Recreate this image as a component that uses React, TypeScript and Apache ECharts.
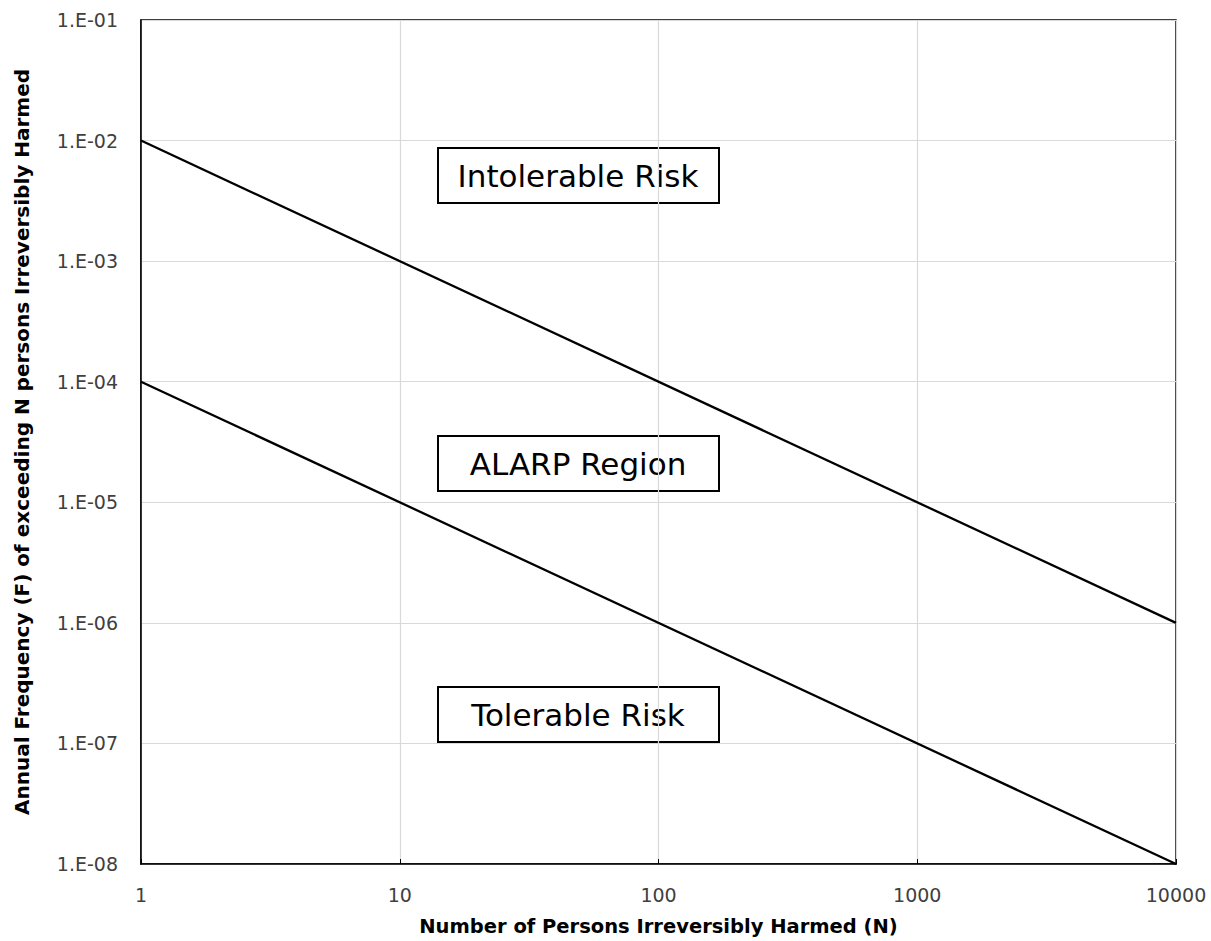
import React, { useEffect, useRef } from "react";
import * as echarts from "echarts";

// F-N criterion lines (N, F)
const upperLimit: [number, number][] = [
  [1, 1e-2],
  [10000, 1e-6],
];
const lowerLimit: [number, number][] = [
  [1, 1e-4],
  [10000, 1e-8],
];

const xRange = [1, 10000];
const yRange = [1e-8, 1e-1];

const regionLabels = ["Intolerable Risk", "ALARP Region", "Tolerable Risk"];

const xTitle = "Number of Persons Irreversibly Harmed (N)";
const yTitle = "Annual Frequency (F) of exceeding N persons Irreversibly Harmed";

const FONT = "'DejaVu Sans', sans-serif";

function sciLabel(v: number): string {
  const e = Math.round(Math.log10(v));
  const sign = e < 0 ? "-" : "+";
  const abs = Math.abs(e);
  return `1.E${sign}${abs < 10 ? "0" + abs : abs}`;
}

export default function App() {
  const ref = useRef<HTMLDivElement>(null);

  useEffect(() => {
    if (!ref.current) return;
    const chart = echarts.init(ref.current, undefined, { renderer: "svg" });

    const boxCenters = [
      { x: 578, y: 175 },
      { x: 578, y: 463 },
      { x: 578, y: 714 },
    ];

    const option: any = {
      animation: false,
      backgroundColor: "#ffffff",
      grid: {
        left: 141,
        right: 35,
        top: 20,
        bottom: 77,
        outerBoundsMode: "none",
        containLabel: false,
        show: true,
        borderColor: "#000000",
        borderWidth: 1.5,
      },
      xAxis: {
        type: "log",
        logBase: 10,
        min: xRange[0],
        max: xRange[1],
        name: xTitle,
        nameLocation: "middle",
        nameGap: 52,
        nameMoveOverlap: false,
        nameTextStyle: {
          fontFamily: FONT,
          fontWeight: "bold",
          fontSize: 19.5,
          color: "#000000",
        },
        axisLine: { show: true, lineStyle: { color: "#000000", width: 1.5 } },
        axisTick: { show: true, inside: true, length: 5, lineStyle: { color: "#000000" } },
        minorTick: { show: false },
        axisLabel: {
          fontFamily: FONT,
          fontSize: 19,
          color: "#404040",
          margin: 21,
          formatter: (v: number) => String(Math.round(v)),
        },
        splitLine: { show: true, lineStyle: { color: "#d9d9d9", width: 1.2 } },
      },
      yAxis: {
        type: "log",
        logBase: 10,
        min: yRange[0],
        max: yRange[1],
        name: yTitle,
        nameLocation: "middle",
        nameGap: 109,
        nameMoveOverlap: false,
        nameRotate: 90,
        nameTextStyle: {
          fontFamily: FONT,
          fontWeight: "bold",
          fontSize: 20,
          color: "#000000",
        },
        axisLine: { show: true, lineStyle: { color: "#000000", width: 1.5 } },
        axisTick: { show: false },
        axisLabel: {
          fontFamily: FONT,
          fontSize: 19,
          color: "#404040",
          margin: 23,
          formatter: (v: number) => sciLabel(v),
        },
        splitLine: { show: true, lineStyle: { color: "#d9d9d9", width: 1.2 } },
      },
      series: [
        {
          type: "line",
          data: upperLimit,
          showSymbol: false,
          symbol: "none",
          lineStyle: { color: "#000000", width: 2.3 },
        },
        {
          type: "line",
          data: lowerLimit,
          showSymbol: false,
          symbol: "none",
          lineStyle: { color: "#000000", width: 2.3 },
        },
      ],
      graphic: regionLabels.map((label, i) => ({
        type: "group",
        x: boxCenters[i].x,
        y: boxCenters[i].y,
        children: [
          {
            type: "rect",
            shape: { x: -140, y: -27, width: 281, height: 55 },
            style: { fill: "#ffffff", stroke: "#000000", lineWidth: 2 },
          },
          {
            type: "text",
            x: 0,
            y: 1,
            style: {
              text: label,
              fontFamily: FONT,
              fontSize: 31,
              fill: "#000000",
              align: "center",
              verticalAlign: "middle",
            },
          },
        ],
      })),
    };

    chart.setOption(option);
    return () => chart.dispose();
  }, []);

  return (
    <div
      ref={ref}
      style={{ position: "fixed", left: 0, top: 0, width: 1211, height: 941 }}
    />
  );
}
